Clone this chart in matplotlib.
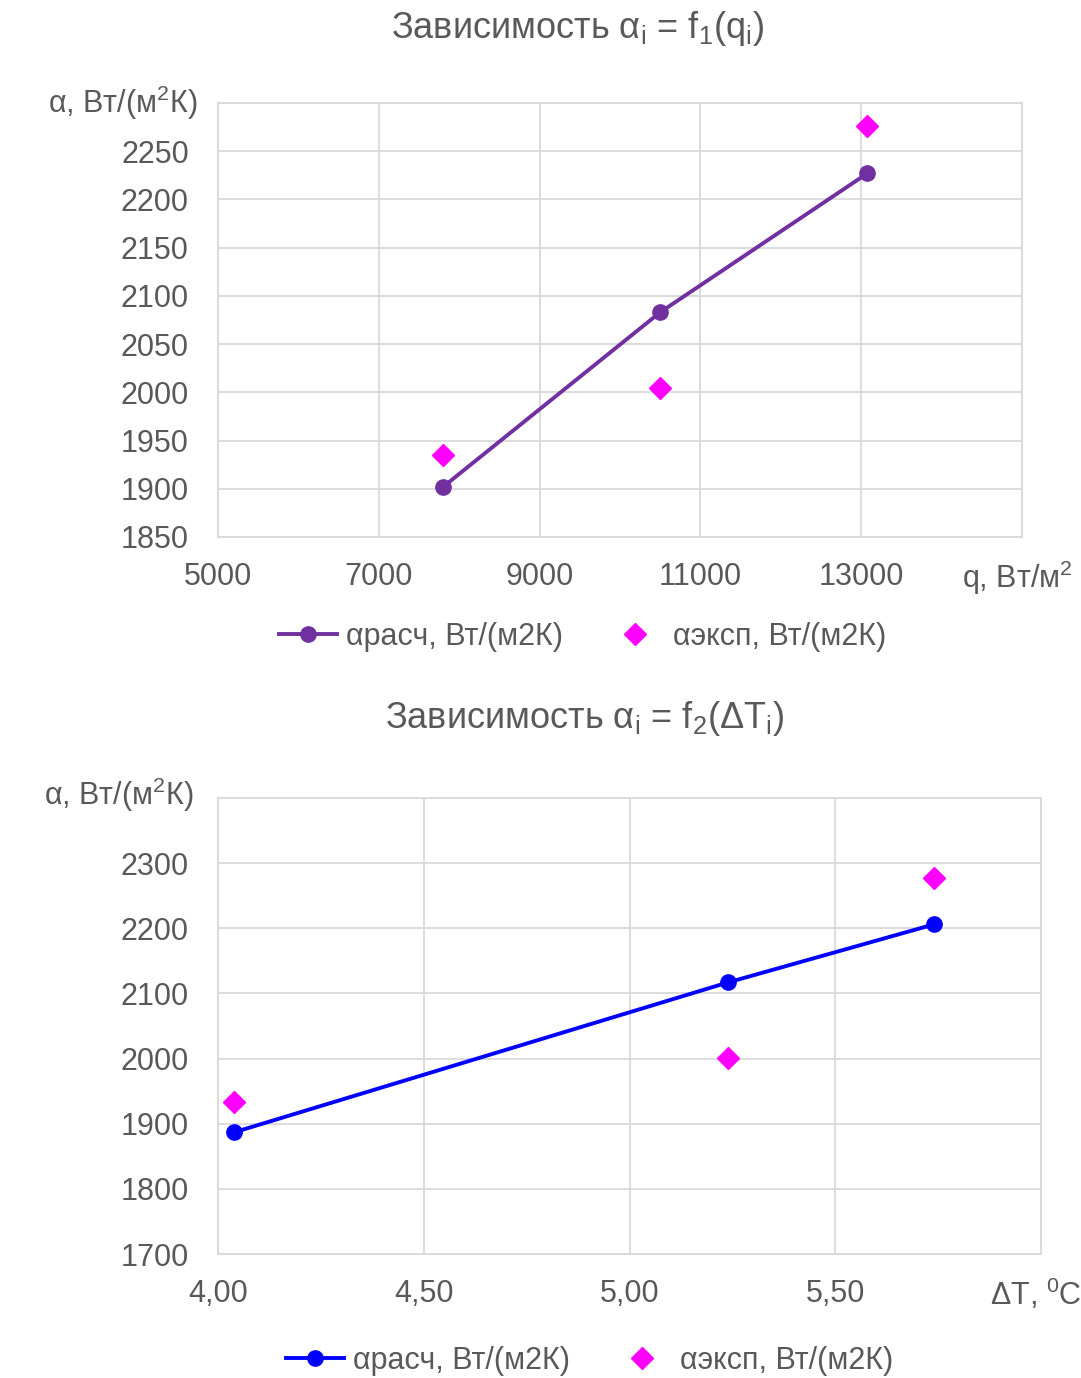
import matplotlib
matplotlib.use("Agg")
import matplotlib.pyplot as plt
from matplotlib.ticker import FixedLocator, FuncFormatter

plt.rcParams["font.family"] = ["Liberation Sans", "DejaVu Sans"]
plt.rcParams["mathtext.fontset"] = "custom"
plt.rcParams["mathtext.rm"] = "Liberation Sans"
plt.rcParams["mathtext.it"] = "Liberation Sans"

TEXT = "#595959"
GRID = "#d9d9d9"

# chart 1: alpha vs q
q_vals = [7800, 10500, 13075]
a_calc_q = [1902, 2083, 2227]
a_exp_q = [1935, 2004, 2276]
q_ticks = [5000, 7000, 9000, 11000, 13000]
a_ticks_1 = [1850, 1900, 1950, 2000, 2050, 2100, 2150, 2200, 2250]

# chart 2: alpha vs dT
dt_vals = [4.04, 5.24, 5.74]
a_calc_dt = [1887, 2117, 2206]
a_exp_dt = [1933, 2001, 2277]
dt_ticks = [4.0, 4.5, 5.0, 5.5]
a_ticks_2 = [1700, 1800, 1900, 2000, 2100, 2200, 2300]

lbl_calc = "αрасч, Вт/(м2К)"
lbl_exp = "αэксп, Вт/(м2К)"
ylab = r"α, Вт/(м$\mathregular{^2}$К)"

FS = 22
FS_TITLE = 26


def style_axes(ax):
    ax.grid(True, color=GRID, linewidth=1.3)
    ax.set_axisbelow(True)
    for s in ax.spines.values():
        s.set_color(GRID)
        s.set_linewidth(1.3)
    ax.tick_params(length=0, labelsize=FS, labelcolor=TEXT)
    ax.tick_params(axis="y", pad=21)
    ax.tick_params(axis="x", pad=18)


def add_legend(ax, y_px, x_px):
    ax.legend(loc="center", bbox_to_anchor=(x_px / 1081, 1 - y_px / 1378),
              bbox_transform=fig.transFigure, ncol=2, frameon=False,
              fontsize=FS, labelcolor=TEXT, handlelength=1.9,
              columnspacing=1.4, handletextpad=0.3)


fig = plt.figure(figsize=(10.81, 13.78), dpi=100)

# ---- top chart ----
ax1 = fig.add_axes([218 / 1081, 1 - 537 / 1378, 804 / 1081, 434 / 1378])
ax1.plot(q_vals, a_calc_q, color="#7030A0", linewidth=2.8, marker="o",
         markersize=11, label=lbl_calc, zorder=3)
ax1.plot(q_vals, a_exp_q, color="#FF00FF", linestyle="none", marker="D",
         markersize=11, label=lbl_exp, zorder=3)
ax1.set_xlim(5000, 15000)
ax1.set_ylim(1850, 2300)
ax1.xaxis.set_major_locator(FixedLocator(q_ticks + [15000]))
ax1.xaxis.set_major_formatter(FuncFormatter(lambda v, p: "" if v > 14000 else f"{v:.0f}"))
ax1.yaxis.set_major_locator(FixedLocator(a_ticks_1 + [2300]))
ax1.yaxis.set_major_formatter(FuncFormatter(lambda v, p: "" if v > 2275 else f"{v:.0f}"))
style_axes(ax1)

fig.text(578 / 1081, 1 - 28 / 1378,
         r"Зависимость $\mathregular{α_i}$ = $\mathregular{f_1(q_i)}$",
         ha="center", va="center", fontsize=FS_TITLE, color=TEXT)
fig.text(48 / 1081, 1 - 103 / 1378, ylab, ha="left", va="center",
         fontsize=FS, color=TEXT)
fig.text(962 / 1081, 1 - 578 / 1378, r"q, Вт/м$\mathregular{^2}$", ha="left",
         va="center", fontsize=FS, color=TEXT)
add_legend(ax1, 637, 583)

# ---- bottom chart ----
ax2 = fig.add_axes([218 / 1081, 1 - 1254 / 1378, 823 / 1081, 456 / 1378])
ax2.plot(dt_vals, a_calc_dt, color="#0000FF", linewidth=2.8, marker="o",
         markersize=11, label=lbl_calc, zorder=3)
ax2.plot(dt_vals, a_exp_dt, color="#FF00FF", linestyle="none", marker="D",
         markersize=11, label=lbl_exp, zorder=3)
ax2.set_xlim(4.0, 6.0)
ax2.set_ylim(1700, 2400)
ax2.xaxis.set_major_locator(FixedLocator(dt_ticks + [6.0]))
ax2.xaxis.set_major_formatter(FuncFormatter(
    lambda v, p: "" if v > 5.9 else f"{v:.2f}".replace(".", ",")))
ax2.yaxis.set_major_locator(FixedLocator(a_ticks_2 + [2400]))
ax2.yaxis.set_major_formatter(FuncFormatter(lambda v, p: "" if v > 2350 else f"{v:.0f}"))
style_axes(ax2)

fig.text(585 / 1081, 1 - 718 / 1378,
         r"Зависимость $\mathregular{α_i}$ = $\mathregular{f_2(ΔT_i)}$",
         ha="center", va="center", fontsize=FS_TITLE, color=TEXT)
fig.text(44 / 1081, 1 - 795 / 1378, ylab, ha="left", va="center",
         fontsize=FS, color=TEXT)
fig.text(990 / 1081, 1 - 1294 / 1378, r"ΔT, $\mathregular{^0}$C", ha="left",
         va="center", fontsize=FS, color=TEXT)
add_legend(ax2, 1361, 590)

fig.savefig("out.png", dpi=100, facecolor="white")
